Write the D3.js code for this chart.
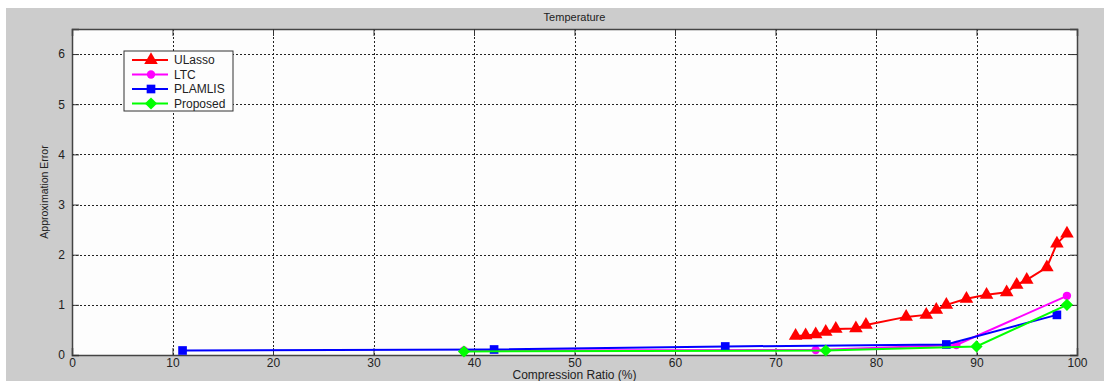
<!DOCTYPE html>
<html>
<head>
<meta charset="utf-8">
<script src="https://cdn.jsdelivr.net/npm/d3@7"></script>
<style>
  body { margin: 0; background: #fff; }
  text { font-family: "Liberation Sans", Arial, sans-serif; fill: #222; }
</style>
</head>
<body>
<script>
var width = 1104,
    height = 381;

var margin = {top: 29, right: 27, bottom: 26, left: 72},
    graphWidth = width - margin.left - margin.right,
    graphHeight = height - margin.top - margin.bottom;

// data
var ulassoX = [72, 73, 74, 75, 76, 78, 79, 83, 85, 86, 87, 89, 91, 93, 94, 95, 97, 98, 99];
var ulassoY = [0.38, 0.39, 0.41, 0.46, 0.52, 0.53, 0.6, 0.76, 0.8, 0.9, 1.0, 1.12, 1.2, 1.25, 1.4, 1.5, 1.75, 2.22, 2.42];
var ltcX = [39, 74, 88, 99];
var ltcY = [0.09, 0.1, 0.2, 1.18];
var plamlisX = [11, 42, 65, 87, 98];
var plamlisY = [0.09, 0.11, 0.17, 0.21, 0.8];
var proposedX = [39, 75, 90, 99];
var proposedY = [0.07, 0.09, 0.17, 1.0];

var xTicks = [0, 10, 20, 30, 40, 50, 60, 70, 80, 90, 100];
var yTicks = [0, 1, 2, 3, 4, 5, 6];

var series = [
  {name: "ULasso", color: "#ff0000", marker: d3.symbolTriangle, size: 80, xs: ulassoX, ys: ulassoY},
  {name: "LTC", color: "#ff00ff", marker: d3.symbolCircle, size: 55, xs: ltcX, ys: ltcY},
  {name: "PLAMLIS", color: "#0000ff", marker: d3.symbolSquare, size: 75, xs: plamlisX, ys: plamlisY},
  {name: "Proposed", color: "#00ff00", marker: d3.symbolDiamond2, size: 95, xs: proposedX, ys: proposedY}
];

var svg = d3.select("body").append("svg")
  .attr("width", width)
  .attr("height", height)
  .attr("id", "canvas");

// gray figure background
svg.append("rect")
  .attr("x", 6).attr("y", 8)
  .attr("width", width - 6).attr("height", height - 8)
  .attr("fill", "#cccccc");

var g = svg.append("g")
  .attr("transform", "translate(" + margin.left + "," + margin.top + ")");

var xScale = d3.scaleLinear().domain([0, 100]).range([0, graphWidth]);
var yScale = d3.scaleLinear().domain([0, 6.5]).range([graphHeight, 0]);

g.append("rect")
  .attr("width", graphWidth).attr("height", graphHeight)
  .attr("fill", "#fdfdfd");

// grid
g.selectAll(".vgrid").data(xTicks.slice(1, -1)).enter().append("line")
  .attr("x1", function(d){ return Math.round(xScale(d)) + 0.5; })
  .attr("x2", function(d){ return Math.round(xScale(d)) + 0.5; })
  .attr("y1", 0).attr("y2", graphHeight)
  .attr("stroke", "#222").attr("stroke-dasharray", "2,2");
g.selectAll(".hgrid").data(yTicks.slice(1)).enter().append("line")
  .attr("y1", function(d){ return Math.round(yScale(d)) + 0.5; })
  .attr("y2", function(d){ return Math.round(yScale(d)) + 0.5; })
  .attr("x1", 0).attr("x2", graphWidth)
  .attr("stroke", "#222").attr("stroke-dasharray", "2,2");

// axes (ticks inward, mirrored)
var fmt = d3.format("d");
var xAxis = g.append("g")
  .attr("transform", "translate(0," + graphHeight + ")")
  .call(d3.axisBottom(xScale).tickValues(xTicks).tickFormat(fmt).tickSize(-7).tickPadding(3));
var xTop = g.append("g")
  .call(d3.axisTop(xScale).tickValues(xTicks).tickSize(-7).tickFormat(""));
var yAxis = g.append("g")
  .call(d3.axisLeft(yScale).tickValues(yTicks).tickFormat(fmt).tickSize(-7).tickPadding(7));
var yRight = g.append("g")
  .attr("transform", "translate(" + graphWidth + ",0)")
  .call(d3.axisRight(yScale).tickValues(yTicks).tickSize(-7).tickFormat(""));

[xAxis, xTop, yAxis, yRight].forEach(function(a){
  a.selectAll("path").attr("stroke", "#444").attr("stroke-width", 1.5);
  a.selectAll("line").attr("stroke", "#333");
  a.selectAll("text").style("font-size", "12px").attr("fill", "#222")
    .style("font-family", "Liberation Sans, Arial, sans-serif");
});

// series
var line = d3.line()
  .x(function(d){ return xScale(d[0]); })
  .y(function(d){ return yScale(d[1]); });

series.forEach(function(s){
  var pts = s.xs.map(function(x, i){ return [x, s.ys[i]]; });
  g.append("path").datum(pts)
    .attr("d", line)
    .attr("fill", "none")
    .attr("stroke", s.color)
    .attr("stroke-width", 2);
  g.selectAll(null).data(pts).enter().append("path")
    .attr("d", d3.symbol().type(s.marker).size(s.size))
    .attr("transform", function(d){ return "translate(" + xScale(d[0]) + "," + yScale(d[1]) + ")"; })
    .attr("fill", s.color);
});

// legend
var legend = svg.append("g").attr("transform", "translate(124,51)");
legend.append("rect")
  .attr("width", 109).attr("height", 60)
  .attr("fill", "#fdfdfd").attr("stroke", "#333").attr("stroke-width", 1);
series.forEach(function(s, i){
  var y = 9 + i * 14.5;
  legend.append("line")
    .attr("x1", 8).attr("x2", 44).attr("y1", y).attr("y2", y)
    .attr("stroke", s.color).attr("stroke-width", 2);
  legend.append("path")
    .attr("d", d3.symbol().type(s.marker).size(s.size))
    .attr("transform", "translate(27," + y + ")")
    .attr("fill", s.color);
  legend.append("text")
    .attr("x", 50).attr("y", y + 4)
    .style("font-size", "12px")
    .text(s.name);
});

// titles
svg.append("text")
  .attr("x", margin.left + graphWidth / 2).attr("y", 21)
  .attr("text-anchor", "middle")
  .style("font-size", "11px")
  .text("Temperature");
svg.append("text")
  .attr("x", margin.left + graphWidth / 2).attr("y", 379)
  .attr("text-anchor", "middle")
  .style("font-size", "12px")
  .text("Compression Ratio (%)");
svg.append("text")
  .attr("transform", "translate(48," + (margin.top + graphHeight / 2) + ") rotate(-90)")
  .attr("text-anchor", "middle")
  .style("font-size", "10.5px")
  .text("Approximation Error");
</script>
</body>
</html>
